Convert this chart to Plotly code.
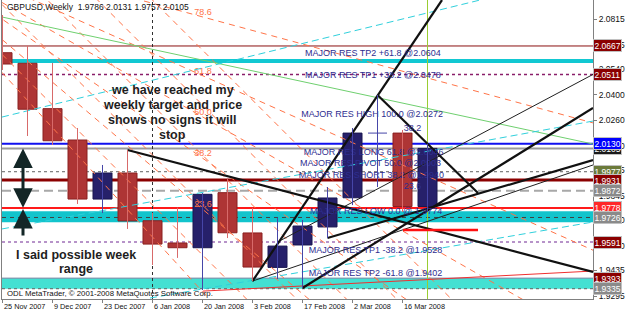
import plotly.graph_objects as go

# ---------------- data ----------------
weeks = ["25 Nov 2007", "2 Dec 2007", "9 Dec 2007", "16 Dec 2007", "23 Dec 2007",
         "30 Dec 2007", "6 Jan 2008", "13 Jan 2008", "20 Jan 2008", "27 Jan 2008",
         "3 Feb 2008", "10 Feb 2008", "17 Feb 2008", "24 Feb 2008", "2 Mar 2008",
         "9 Mar 2008", "16 Mar 2008", "23 Mar 2008"]
opens = [2.0630, 2.0572, 2.0323, 2.0151, 1.9827, 1.9970, 1.9708, 1.9586, 1.9560,
         1.9862, 1.9641, 1.9452, 1.9575, 1.9674, 1.9834, 2.0189, 2.0189, 1.9786]
highs = [2.0837, 2.0667, 2.0574, 2.0217, 2.0014, 2.0096, 1.9751, 1.9780, 1.9860,
         1.9943, 1.9778, 1.9725, 1.9712, 1.9893, 2.0217, 2.0398, 2.0206, 2.0131]
lows = [2.0535, 2.0173, 2.0124, 1.9800, 1.9750, 1.9663, 1.9465, 1.9504, 1.9328,
        1.9613, 1.9377, 1.9388, 1.9339, 1.9613, 1.9794, 1.9893, 1.9756, 1.9757]
closes = [2.0568, 2.0320, 2.0147, 1.9827, 1.9970, 1.9707, 1.9580, 1.9560, 1.9853,
          1.9642, 1.9454, 1.9569, 1.9679, 1.9833, 2.0189, 2.0189, 1.9786, 2.0105]

price_ticks = [2.0815, 2.0675, 2.0540, 2.0400, 2.0260, 2.0120, 1.9985, 1.9845,
               1.9710, 1.9570, 1.9435, 1.9295]
date_ticks = list(range(0, 18, 2))

# horizontal levels
level_prices = [2.0667, 2.0585, 2.0511, 2.0130, 2.0105, 1.9977, 1.9931, 1.9872,
                1.9778, 1.9726, 1.9591, 1.9393, 1.9335]
band_mid = [1.9760, 1.9700]
band_low = [1.9393, 1.9335]

# price tags on the right axis
tag_prices = [2.0667, 2.0511, 2.0105, 2.0130, 1.9977, 1.9931, 1.9872, 1.9778,
              1.9726, 1.9591, 1.9393, 1.9335]

# level texts (bar index, price, text)
level_text_x = [12.1, 12.1, 11.95, 12.05, 11.9, 11.85, 12.3, 12.25, 12.25]
level_text_y = [2.0623, 2.0502, 2.0288, 2.0080, 2.0019, 1.9954, 1.9756, 1.9542, 1.9416]
level_texts = ["MAJOR RES TP2 +61.8 @2.0604", "MAJOR RES TP1 +38.2 @2.0478",
               "MAJOR RES HIGH 100.0 @2.0272", "MAJOR RES LONG 61.8 @2.0046",
               "MAJOR RES PIVOT 50.0 @2.0003", "MAJOR RES SHORT 38.2 @1.9940",
               "MAJOR RES LOW 0.0 @ 1.9774", "MAJOR RES TP1 -38.2 @1.9528",
               "MAJOR RES TP2 -61.8 @1.9402"]

# trend lines: (x0, y0, x1, y1) in bar index / price
thick_lines = [(5, 2.0096, 23.62, 1.9427),
               (15, 2.0398, 19.02, 1.9860),
               (10, 1.9377, 17.58, 2.0919),
               (12, 1.9339, 23.62, 2.0327),
               (13, 1.9613, 23.62, 2.0041)]
thin_lines = [(10, 1.9377, 23.62, 2.0014),
              (11, 1.9591, 23.62, 2.0511)]
green_line = (-0.02, 2.0826, 23.62, 2.0129)
cyan_lines = [(-0.02, 2.0277, 19.1, 2.0919),
              (-0.02, 1.9663, 23.62, 2.0255),
              (5.9, 1.9284, 23.62, 1.9701)]
red_line = (8.02, 1.9322, 23.62, 1.9432)
short_red = (16.02, 1.9657, 19.02, 1.9657)

# fibonacci fan
fan_origin = (-5.38, 2.1325)
fan_ref_x = 8.02
fan_low, fan_high = 1.9316, 2.1237
fan_levels = [0.0, 23.6, 38.2, 50.0, 61.8, 78.6]
# steep parallel channel lines (price at bar 0, slope per bar)
chan_start = [2.1742, 2.1441, 2.1166, 2.0892, 2.0618]
chan_slope = -0.01372

X0, X1 = -0.02, 23.62
Y0, Y1 = 1.92786, 2.09193

FONT = "Liberation Sans, Arial, sans-serif"
fig = go.Figure()

def seg(l, color, width, dash="solid"):
    fig.add_trace(go.Scatter(x=[l[0], l[2]], y=[l[1], l[3]], mode="lines",
                             line=dict(color=color, width=width, dash=dash),
                             hoverinfo="skip", showlegend=False))

# fan lines
for L in fan_levels:
    py = fan_low + L / 100 * (fan_high - fan_low)
    slope = (py - fan_origin[1]) / (fan_ref_x - fan_origin[0])
    seg((fan_origin[0], fan_origin[1], X1, fan_origin[1] + slope * (X1 - fan_origin[0])),
        "#FF7448", 1, "6px,5px")
for c in chan_start:
    seg((X0, c + chan_slope * X0, X1, c + chan_slope * X1), "#FF7448", 1, "6px,5px")

fan_lbl_y = [fan_low + L / 100 * (fan_high - fan_low) for L in fan_levels[1:]]
fig.add_trace(go.Scatter(x=[fan_ref_x] * len(fan_lbl_y), y=fan_lbl_y, mode="text",
                         text=["%.1f" % L for L in fan_levels[1:]],
                         textposition="top center",
                         textfont=dict(family=FONT, size=9, color="#FF7448"),
                         hoverinfo="skip", showlegend=False))

seg(green_line, "#6FD06F", 1)
for l in cyan_lines:
    seg(l, "#30D0DC", 1, "7px,4px")
seg(red_line, "#F03030", 1)

for l in thin_lines:
    seg(l, "#202020", 1)
for l in thick_lines:
    seg(l, "#111111", 2.2)
seg(short_red, "#FF1010", 2.5)

# level texts (under candles)
fig.add_trace(go.Scatter(x=level_text_x, y=level_text_y, mode="text", text=level_texts,
                         textposition="middle right",
                         textfont=dict(family=FONT, size=9, color="#2E2E90"),
                         hoverinfo="skip", showlegend=False))
fig.add_trace(go.Scatter(x=[16.05, 16.05], y=[2.0215, 1.9895], mode="text",
                         text=["38.2", "23.6"], textposition="middle right",
                         textfont=dict(family=FONT, size=9, color="#2E2E90"),
                         hoverinfo="skip", showlegend=False))

# candles
idx = list(range(len(weeks)))
bull = [i for i in idx if closes[i] >= opens[i]]
bear = [i for i in idx if closes[i] < opens[i]]

def wicks(ids, color):
    xs, ys = [], []
    for i in ids:
        xs += [i, i, None]
        ys += [lows[i], highs[i], None]
        if closes[i] == opens[i]:
            xs += [i - 0.38, i + 0.38, None]
            ys += [opens[i], opens[i], None]
    fig.add_trace(go.Scatter(x=xs, y=ys, mode="lines", line=dict(color=color, width=1),
                             hoverinfo="skip", showlegend=False))

wicks(bear, "#D86A6A")
wicks(bull, "#4646A8")
fig.add_trace(go.Bar(x=bear, y=[opens[i] - closes[i] for i in bear],
                     base=[closes[i] for i in bear], width=0.76,
                     marker=dict(color="#AE3535", line=dict(color="#8A2020", width=1)),
                     hoverinfo="skip", showlegend=False))
fig.add_trace(go.Bar(x=[i for i in bull if closes[i] != opens[i]],
                     y=[closes[i] - opens[i] for i in bull if closes[i] != opens[i]],
                     base=[opens[i] for i in bull if closes[i] != opens[i]], width=0.76,
                     marker=dict(color="#26206A", line=dict(color="#1A1650", width=1)),
                     hoverinfo="skip", showlegend=False))

# shapes: bands and horizontal levels (below traces)
shapes = []
shapes.append(dict(type="rect", xref="paper", x0=0, x1=1, yref="y", y0=band_mid[1],
                   y1=band_mid[0], fillcolor="#12C4CC", line=dict(width=0), layer="below"))
shapes.append(dict(type="rect", xref="paper", x0=0, x1=1, yref="y", y0=band_low[1],
                   y1=band_low[0], fillcolor="#44E0D2", line=dict(width=0), layer="below"))
level_style = [("#8B1010", 1, "solid"), ("#12C8D2", 4, "solid"), ("#8A1E6A", 1.5, "dot"),
               ("#1010F0", 2, "solid"), ("#9A9A9A", 2, "solid"), ("#606060", 1, "3px,3px"),
               ("#8B0000", 3, "solid"), ("#A8A8A8", 2, "9px,5px"), ("#FF1A1A", 2, "solid"),
               ("#404040", 1, "4px,4px"), ("#A070B8", 1.5, "dot"), ("#7080A0", 1, "solid"),
               ("#606060", 1, "3px,3px")]
for p, (c, w, d) in zip(level_prices, level_style):
    shapes.append(dict(type="line", xref="paper", x0=0, x1=1, yref="y", y0=p, y1=p,
                       line=dict(color=c, width=w, dash=d), layer="below"))
# vertical lines
shapes.append(dict(type="line", xref="x", x0=6, x1=6, yref="paper", y0=0, y1=1,
                   line=dict(color="#303030", width=1, dash="3px,3px"), layer="below"))
shapes.append(dict(type="line", xref="x", x0=17, x1=17, yref="paper", y0=0, y1=1,
                   line=dict(color="#9ACD32", width=1), layer="below"))

ann = []
tag_colors = ["#8B0000", "#8B0000", "#1A1A1A", "#0000FF", "#6B7A3A", "#8B0000",
              "#8A8A8A", "#FF2828", "#8A8A8A", "#8B0000", "#8B0000", "#8A8A8A"]
for p, c in zip(tag_prices, tag_colors):
    ann.append(dict(xref="paper", x=1, xanchor="left", xshift=0, yref="y", y=p,
                    text="%.4f" % p, showarrow=False, bgcolor=c, bordercolor="#C0C0C0",
                    borderwidth=1, borderpad=0.5,
                    font=dict(family=FONT, size=8.5, color="white")))

# date labels, left-aligned at their bar like MetaTrader
for i in date_ticks:
    ann.append(dict(xref="x", x=i, yref="paper", y=0, xanchor="left", yanchor="top",
                    xshift=-1, yshift=-1, text=weeks[i], showarrow=False,
                    font=dict(family=FONT, size=7.3, color="#111111")))

big = dict(family="Liberation Sans, Arial, sans-serif", size=12.5, color="#1E1E1E")
for j, t in enumerate(["we have reached my", "weekly target and price",
                       "shows no signs it will", "stop"]):
    ann.append(dict(x=6.78, y=Y1 - (90 + 15 * j) * (Y1 - Y0) / 299, text="<b>%s</b>" % t,
                    showarrow=False, font=big))
for j, t in enumerate(["I said possible week", "range"]):
    ann.append(dict(x=2.94, y=Y1 - (255 + 14 * j) * (Y1 - Y0) / 299, text="<b>%s</b>" % t,
                    showarrow=False, font=big))

ann.append(dict(xref="paper", yref="paper", x=0.005, y=0.977, xanchor="left",
                yanchor="middle", showarrow=False,
                text="GBPUSD,Weekly  %.4f %.4f %.4f %.4f" % (opens[-1], highs[-1], lows[-1], closes[-1]),
                font=dict(family=FONT, size=8.5, color="#111111")))
ann.append(dict(xref="paper", yref="paper", x=0.005, y=0.02, xanchor="left",
                yanchor="middle", showarrow=False,
                text="ODL MetaTrader, © 2001-2008 MetaQuotes Software Corp.",
                font=dict(family=FONT, size=7.8, color="#111111")))

# arrows
ann.append(dict(x=0.82, y=1.9780, ax=0.82, ay=2.0113, axref="x", ayref="y", text="",
                showarrow=True, arrowhead=2, arrowside="end+start", arrowsize=1.3,
                arrowwidth=3, arrowcolor="#132626"))
ann.append(dict(x=0.82, y=1.9772, ax=0.82, ay=1.9619, axref="x", ayref="y", text="",
                showarrow=True, arrowhead=2, arrowsize=1.3, arrowwidth=3,
                arrowcolor="#132626"))

fig.update_layout(
    width=625, height=313, margin=dict(l=2, r=32, t=0, b=14, autoexpand=False),
    paper_bgcolor="white", plot_bgcolor="white", barmode="overlay",
    shapes=shapes, annotations=ann, showlegend=False,
    xaxis=dict(range=[X0, X1], tickvals=date_ticks, showticklabels=False,
               ticks="outside", ticklen=3, tickcolor="#808080", showgrid=False,
               zeroline=False, showline=True, linecolor="#808080", mirror=True,
               automargin=False),
    yaxis=dict(range=[Y0, Y1], side="right", tickvals=price_ticks,
               ticktext=["%.4f" % v for v in price_ticks], ticks="outside", ticklen=3,
               tickcolor="#808080", showgrid=False, zeroline=False, showline=True,
               linecolor="#808080", mirror=True, automargin=False,
               tickfont=dict(family=FONT, size=8.5, color="#111111")),
)

fig.write_html("out.html")
